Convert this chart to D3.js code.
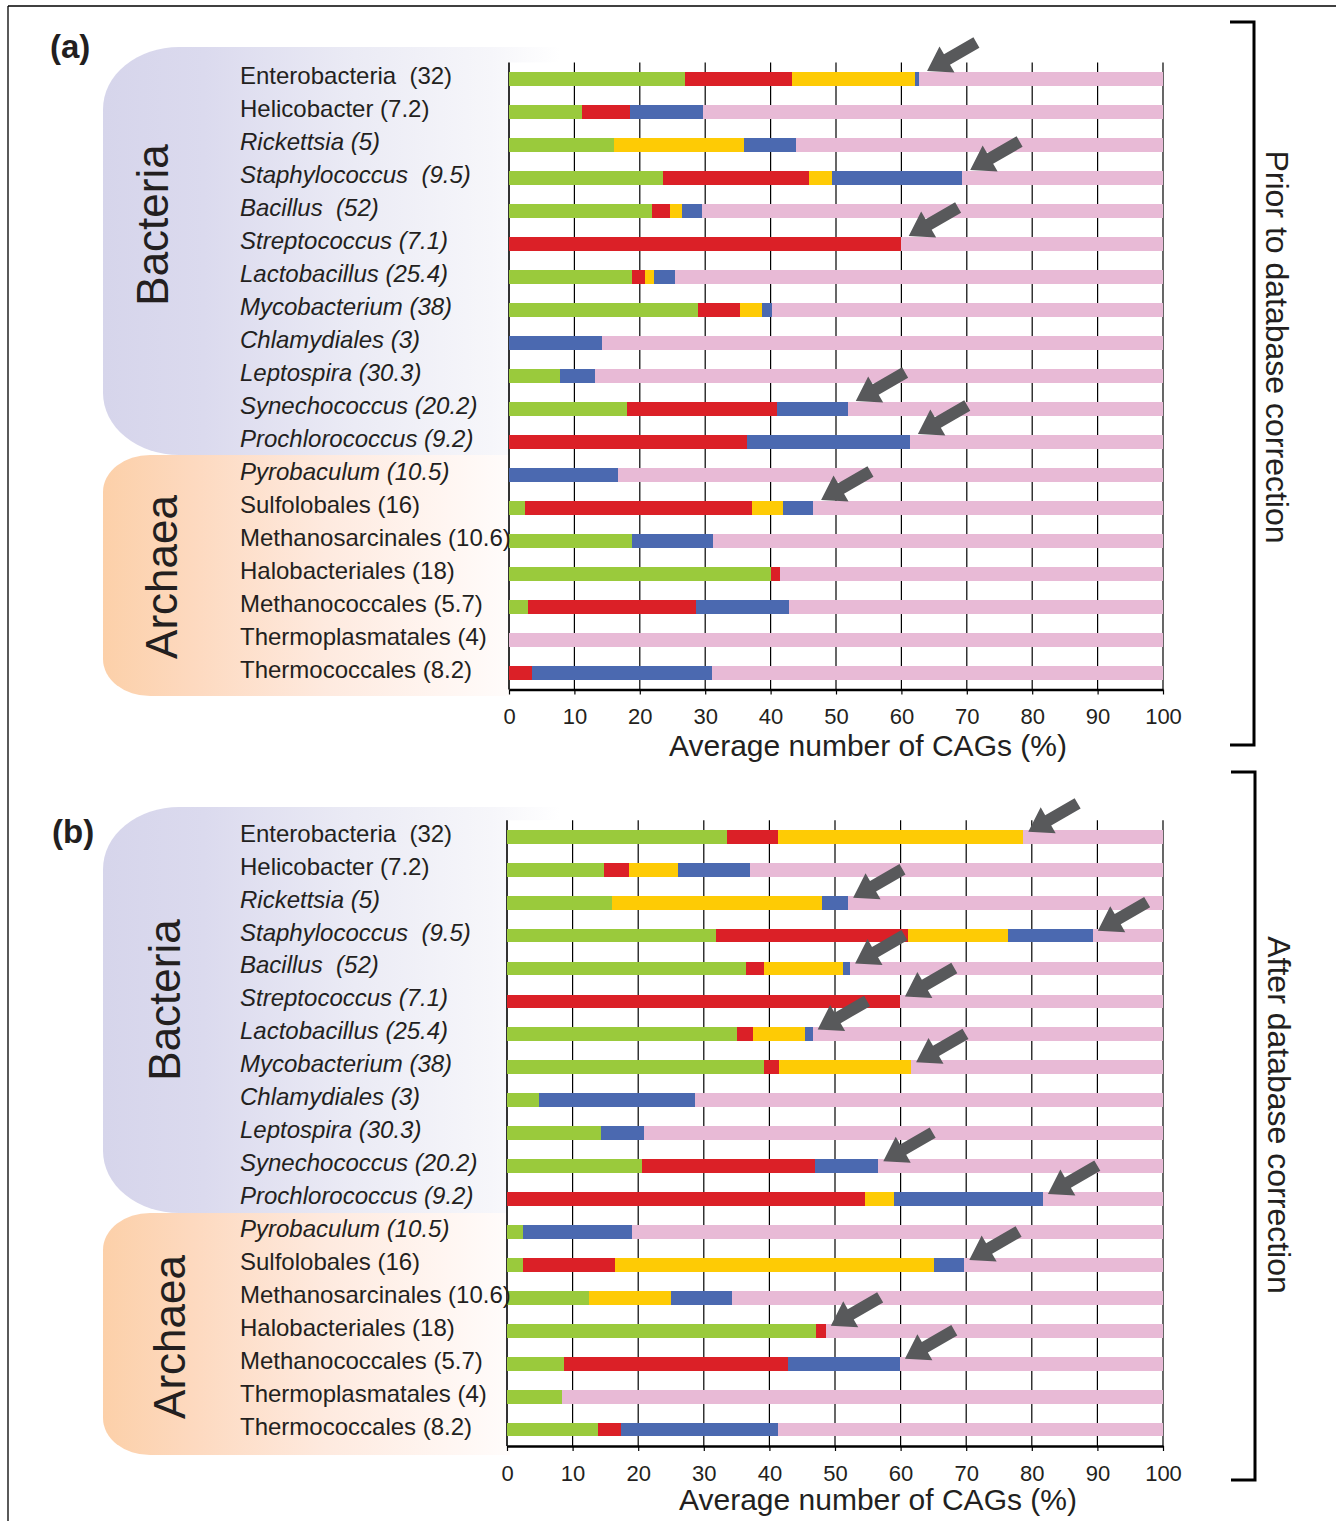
<!DOCTYPE html>
<html><head><meta charset="utf-8">
<script src="https://cdn.jsdelivr.net/npm/d3@7"></script>
<style>
html,body{margin:0;padding:0;background:#fff;}
svg text{font-family:"Liberation Sans", Arial, Helvetica, sans-serif; fill:#231f20;}
</style></head><body>
<svg id="chart" width="1336" height="1521"></svg>
<script>
// ---------------- DATA ----------------
const taxa = [
  "Enterobacteria  (32)", "Helicobacter (7.2)", "Rickettsia (5)", "Staphylococcus  (9.5)",
  "Bacillus  (52)", "Streptococcus (7.1)", "Lactobacillus (25.4)", "Mycobacterium (38)",
  "Chlamydiales (3)", "Leptospira (30.3)", "Synechococcus (20.2)", "Prochlorococcus (9.2)",
  "Pyrobaculum (10.5)", "Sulfolobales (16)", "Methanosarcinales (10.6)", "Halobacteriales (18)",
  "Methanococcales (5.7)", "Thermoplasmatales (4)", "Thermococcales (8.2)"
];
const italicTaxa = [
  "Rickettsia (5)", "Staphylococcus  (9.5)", "Bacillus  (52)", "Streptococcus (7.1)",
  "Lactobacillus (25.4)", "Mycobacterium (38)", "Chlamydiales (3)", "Leptospira (30.3)",
  "Synechococcus (20.2)", "Prochlorococcus (9.2)", "Pyrobaculum (10.5)"
];
const domains = ["Bacteria", "Archaea"];
const domainSizes = [12, 7];
const seriesKeys = ["cat1", "cat2", "cat3", "cat4", "cat5"];
const xTicks = [0, 10, 20, 30, 40, 50, 60, 70, 80, 90, 100];
const xTitle = "Average number of CAGs (%)";
const panelTitles = ["Prior to database correction", "After database correction"];
const panelLetters = ["(a)", "(b)"];

// Panel (a): prior to database correction (segment widths, %)
const cat1A = [26.9, 11.2, 16.1, 23.5, 21.9, 0, 18.8, 28.9, 0, 7.8, 18.0, 0, 0, 2.4, 18.8, 40.1, 2.9, 0, 0];
const cat2A = [16.4, 7.3, 0, 22.4, 2.7, 59.9, 2.0, 6.4, 0, 0, 23.0, 36.4, 0, 34.8, 0, 1.3, 25.7, 0, 3.5];
const cat3A = [18.8, 0, 19.8, 3.5, 1.9, 0, 1.4, 3.4, 0, 0, 0, 0, 0, 4.7, 0, 0, 0, 0, 0];
const cat4A = [0.6, 11.2, 8.0, 19.9, 3.0, 0, 3.2, 1.5, 14.2, 5.3, 10.8, 24.9, 16.7, 4.6, 12.4, 0, 14.2, 0, 27.5];
const cat5A = [37.3, 70.3, 56.1, 30.7, 70.5, 40.1, 74.6, 59.8, 85.8, 86.9, 48.2, 38.7, 83.3, 53.5, 68.8, 58.6, 57.2, 100, 69.0];
const arrowsA = ["Enterobacteria  (32)", "Staphylococcus  (9.5)", "Streptococcus (7.1)",
  "Synechococcus (20.2)", "Prochlorococcus (9.2)", "Sulfolobales (16)"];

// Panel (b): after database correction
const cat1B = [33.5, 14.8, 16.0, 31.9, 36.4, 0, 35.1, 39.2, 4.9, 14.3, 20.6, 0, 2.4, 2.4, 12.5, 47.1, 8.7, 8.4, 13.9];
const cat2B = [7.8, 3.8, 0, 29.2, 2.8, 59.9, 2.4, 2.3, 0, 0, 26.4, 54.6, 0, 14.1, 0, 1.5, 34.1, 0, 3.5];
const cat3B = [37.4, 7.5, 32.0, 15.3, 12.0, 0, 7.9, 20.1, 0, 0, 0, 4.4, 0, 48.6, 12.5, 0, 0, 0, 0];
const cat4B = [0, 10.9, 4.0, 12.9, 1.1, 0, 1.2, 0, 23.8, 6.6, 9.6, 22.7, 16.7, 4.6, 9.3, 0, 17.1, 0, 23.9];
const cat5B = [21.3, 63.0, 48.0, 10.7, 47.7, 40.1, 53.4, 38.4, 71.3, 79.1, 43.4, 18.3, 80.9, 30.3, 65.7, 51.4, 40.1, 91.6, 58.7];
const arrowsB = ["Enterobacteria  (32)", "Rickettsia (5)", "Staphylococcus  (9.5)", "Bacillus  (52)",
  "Streptococcus (7.1)", "Lactobacillus (25.4)", "Mycobacterium (38)", "Synechococcus (20.2)",
  "Prochlorococcus (9.2)", "Sulfolobales (16)", "Halobacteriales (18)", "Methanococcales (5.7)"];

// ---------------- STYLE / LAYOUT ----------------
const colors = d3.scaleOrdinal().domain(seriesKeys)
  .range(["#9aca3c", "#db2027", "#fecb05", "#4b69b0", "#e8bad6"]);
const arrowColor = "#58595b";

const svg = d3.select("#chart");
const defs = svg.append("defs");
function makeGrad(id, stops) {
  const lg = defs.append("linearGradient").attr("id", id)
    .attr("x1", 0).attr("x2", 1).attr("y1", 0).attr("y2", 0);
  stops.forEach(s => lg.append("stop").attr("offset", s[0]).attr("stop-color", s[1]));
}
makeGrad("gBact", [[0, "#d6d5eb"], [0.22, "#dbdaee"], [0.55, "#ebebf5"], [0.85, "#f6f6fa"], [1, "#ffffff"]]);
makeGrad("gArch", [[0, "#fcd0a9"], [0.22, "#fdd9bf"], [0.55, "#feeadf"], [0.85, "#fff6f2"], [1, "#fffcfb"]]);

// frame
svg.append("line").attr("x1", 8).attr("x2", 1336).attr("y1", 6).attr("y2", 6)
  .attr("stroke", "#000").attr("stroke-width", 1.3);
svg.append("line").attr("x1", 8).attr("x2", 8).attr("y1", 6).attr("y2", 1521)
  .attr("stroke", "#000").attr("stroke-width", 1.3);

function roundedLeft(x0, y0, x1, y1, rx, ry) {
  return `M${x0 + rx},${y0} H${x1} V${y1} H${x0 + rx} A${rx},${ry} 0 0 1 ${x0},${y1 - ry} V${y0 + ry} A${rx},${ry} 0 0 1 ${x0 + rx},${y0} Z`;
}

function drawPanel(cfg) {
  const g = svg.append("g");
  const x = d3.scaleLinear().domain([0, 100]).range([cfg.x0, cfg.x1]);
  const y = d3.scaleBand().domain(taxa).range([cfg.yTop, cfg.yBottom])
    .paddingInner(0.58).paddingOuter(0.29);

  // domain shapes (archaea first, bacteria on top)
  g.append("path").attr("d", roundedLeft(103, cfg.archTop, 510, cfg.archBottom, 47, 37))
    .attr("fill", "url(#gArch)");
  g.append("path").attr("d", roundedLeft(103, cfg.bactTop, 560, cfg.archTop, 76, 62))
    .attr("fill", "url(#gBact)");
  // plot background
  g.append("rect").attr("x", cfg.x0).attr("y", cfg.yTop).attr("width", cfg.x1 - cfg.x0)
    .attr("height", cfg.yBottom - cfg.yTop).attr("fill", "#fff");

  // gridlines
  g.append("g").selectAll("line").data(xTicks).join("line")
    .attr("x1", d => x(d)).attr("x2", d => x(d))
    .attr("y1", cfg.yTop).attr("y2", cfg.yBottom)
    .attr("stroke", "#000").attr("stroke-width", d => d === 0 ? 1.6 : 1.2);

  // stacked bars
  const rows = taxa.map((t, i) => {
    const r = { taxon: t };
    seriesKeys.forEach((k, j) => r[k] = cfg.series[j][i]);
    return r;
  });
  const stacked = d3.stack().keys(seriesKeys)(rows);
  g.append("g").selectAll("g").data(stacked).join("g")
    .attr("fill", d => colors(d.key))
    .selectAll("rect").data(d => d).join("rect")
    .attr("x", d => x(d[0])).attr("width", d => Math.max(0, x(d[1]) - x(d[0])))
    .attr("y", d => y(d.data.taxon)).attr("height", y.bandwidth())
    .attr("shape-rendering", "crispEdges");

  // x axis
  const ax = g.append("g").attr("transform", `translate(0,${cfg.yBottom})`)
    .call(d3.axisBottom(x).tickValues(xTicks).tickSize(5).tickSizeOuter(0).tickPadding(14));
  ax.select(".domain").attr("stroke", "#000").attr("stroke-width", 2.4);
  ax.selectAll(".tick line").attr("stroke", "#000").attr("stroke-width", 1.2);
  ax.selectAll(".tick text").attr("font-size", 22).attr("fill", "#231f20")
    .attr("font-family", "Liberation Sans, Arial, sans-serif");
  g.append("text").attr("x", cfg.titleX).attr("y", cfg.titleY).attr("text-anchor", "middle")
    .attr("font-size", 30).text(xTitle);

  // category labels
  g.append("g").selectAll("text").data(taxa).join("text")
    .attr("x", 240).attr("y", d => y(d) + y.bandwidth() / 2 + cfg.labelDy)
    .attr("font-size", 24).style("white-space", "pre")
    .attr("font-style", d => italicTaxa.includes(d) ? "italic" : "normal")
    .text(d => d);

  // domain labels
  g.append("text").attr("transform", `translate(${cfg.bactTx},${cfg.bactTy}) rotate(-90)`)
    .attr("text-anchor", "middle").attr("font-size", 44).text(domains[0]);
  g.append("text").attr("transform", `translate(${cfg.archTx},${cfg.archTy}) rotate(-90)`)
    .attr("text-anchor", "middle").attr("font-size", 44).text(domains[1]);

  // panel letter
  g.append("text").attr("x", cfg.letterX).attr("y", cfg.letterY).attr("font-size", 33)
    .attr("font-weight", "bold").text(cfg.letter);

  // arrows
  const pinkStart = stacked[3];
  const arrowPath = "M0,0 L-23,-15 L-23,-6 L-57,-6 L-57,6 L-23,6 L-23,15 Z";
  g.append("g").selectAll("path").data(cfg.arrows).join("path")
    .attr("d", arrowPath).attr("fill", arrowColor)
    .attr("transform", d => {
      const i = taxa.indexOf(d);
      const tx = x(pinkStart[i][1]) + cfg.arrowDx;
      const ty = y(d) + cfg.arrowDy;
      return `translate(${tx},${ty}) rotate(150)`;
    });

  // bracket
  g.append("path")
    .attr("d", `M${cfg.brX - 24},${cfg.brTop} H${cfg.brX} V${cfg.brBottom} H${cfg.brX - 24}`)
    .attr("fill", "none").attr("stroke", "#000").attr("stroke-width", 3);
  g.append("text").attr("transform", `translate(${cfg.brTx},${cfg.brTy}) rotate(90)`)
    .attr("text-anchor", "middle").attr("font-size", 32).text(cfg.brText);
}

drawPanel({
  series: [cat1A, cat2A, cat3A, cat4A, cat5A], arrows: arrowsA,
  x0: 509, x1: 1163, yTop: 62.5, yBottom: 689.5, labelDy: 4.5,
  titleX: 868, titleY: 756,
  bactTop: 47, archTop: 455, archBottom: 696,
  bactTx: 168, bactTy: 225, archTx: 177, archTy: 577,
  letter: panelLetters[0], letterX: 50, letterY: 58,
  arrowDx: 8, arrowDy: -1,
  brX: 1254, brTop: 22, brBottom: 745, brTx: 1266, brTy: 347, brText: panelTitles[0]
});
drawPanel({
  series: [cat1B, cat2B, cat3B, cat4B, cat5B], arrows: arrowsB,
  x0: 507, x1: 1163, yTop: 820.3, yBottom: 1446, labelDy: 5,
  titleX: 878, titleY: 1510,
  bactTop: 807, archTop: 1213, archBottom: 1455,
  bactTx: 180, bactTy: 1000, archTx: 185, archTy: 1337,
  letter: panelLetters[1], letterX: 52, letterY: 843,
  arrowDx: 5, arrowDy: 2,
  brX: 1255, brTop: 772, brBottom: 1480, brTx: 1268, brTy: 1115, brText: panelTitles[1]
});
</script>
</body></html>
